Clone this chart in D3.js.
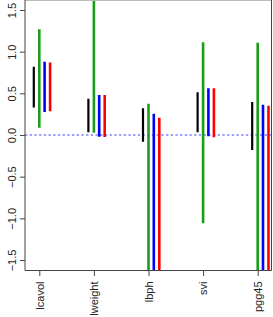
<!DOCTYPE html>
<html><head><meta charset="utf-8">
<script src="https://cdn.jsdelivr.net/npm/d3@7"></script>
<style>body{margin:0;background:#fff}svg{display:block}</style>
</head><body>
<script>
const categories = ["lcavol","lweight","lbph","svi","pgg45"];
const seriesNames = ["black","green","blue","red"];
const seriesColors = ["#000000","#1a9e1a","#0000ff","#ff0000"];
// [low, high] per category for each series
const blackLow  = [0.33, 0.032, -0.08, 0.032, -0.18];
const blackHigh = [0.82, 0.436, 0.32, 0.512, 0.396];
const greenLow  = [0.088, 0.028, -1.9, -1.06, -1.9];
const greenHigh = [1.27, 1.9, 0.376, 1.112, 1.108];
const blueLow   = [0.276, -0.02, -1.9, -0.016, -1.9];
const blueHigh  = [0.88, 0.48, 0.256, 0.56, 0.364];
const redLow    = [0.284, -0.024, -1.9, -0.028, -1.9];
const redHigh   = [0.87, 0.48, 0.208, 0.56, 0.352];
const yTicks = [-1.5, -1.0, -0.5, 0.0, 0.5, 1.0, 1.5];
const yTickLabels = ["\u22121.5","\u22121.0","\u22120.5","0.0","0.5","1.0","1.5"];

const W = 273, H = 317;
const mLeft = 25, mRight = 271.5, mTop = 0.5, mBottom = 270.5;
const svg = d3.select("body").append("svg").attr("width", W).attr("height", H);

const y = d3.scaleLinear().domain([-1.5, 1.5]).range([260, 10]);
const x = d3.scalePoint().domain(categories).range([39.3, 257.7]);
const offsets = [-5.5, 0, 5.3, 10.8];

svg.append("defs").append("clipPath").attr("id","plot")
  .append("rect").attr("x", mLeft).attr("y", mTop).attr("width", mRight-mLeft).attr("height", mBottom-mTop);

const g = svg.append("g").attr("clip-path","url(#plot)");

// reference line at 0
g.append("line").attr("x1", mLeft).attr("x2", mRight).attr("y1", y(0)).attr("y2", y(0))
  .attr("stroke","#7f7fff").attr("stroke-width",1.5).attr("stroke-dasharray","2.3,2.4");

const series = [[blackLow,blackHigh],[greenLow,greenHigh],[blueLow,blueHigh],[redLow,redHigh]];
series.forEach((s, si) => {
  g.selectAll(null).data(categories).enter().append("line")
    .attr("x1", (d) => x(d) + offsets[si]).attr("x2", (d) => x(d) + offsets[si])
    .attr("y1", (d,i) => y(s[0][i])).attr("y2", (d,i) => y(s[1][i]))
    .attr("stroke", seriesColors[si]).attr("stroke-width", si === 0 ? 2.2 : 2.6);
});

// frame
svg.append("line").attr("x1", mLeft).attr("x2", mRight).attr("y1", mTop).attr("y2", mTop).attr("stroke","#bbbbbb").attr("stroke-width",1);
svg.append("line").attr("x1", mRight).attr("x2", mRight).attr("y1", 0).attr("y2", mBottom).attr("stroke","#444").attr("stroke-width",1);

// y axis
const yAxis = svg.append("g").attr("transform", `translate(${mLeft},0)`)
  .call(d3.axisLeft(y).tickValues(yTicks).tickSize(5).tickFormat((d,i) => yTickLabels[i]));
yAxis.select(".domain").attr("d", `M0,${mBottom}V0`).attr("stroke","#444");
yAxis.selectAll(".tick line").attr("stroke","#444");
yAxis.selectAll(".tick text").attr("transform","rotate(-90)").attr("x",0).attr("y",-13)
  .attr("dy","0.35em").attr("text-anchor","middle")
  .attr("font-family","Liberation Sans, Arial, sans-serif").attr("font-size",11).attr("fill","#222");

// x axis
const xAxis = svg.append("g").attr("transform", `translate(0,${mBottom})`)
  .call(d3.axisBottom(x).tickSize(5.5));
xAxis.select(".domain").attr("d", `M${mLeft},0H${mRight}`).attr("stroke","#444");
xAxis.selectAll(".tick line").attr("stroke","#444");
xAxis.selectAll(".tick text").attr("transform","rotate(-90)").attr("x",-11).attr("y",0)
  .attr("dy","0.35em").attr("text-anchor","end")
  .attr("font-family","Liberation Sans, Arial, sans-serif").attr("font-size",11).attr("fill","#222");
</script>
</body></html>
